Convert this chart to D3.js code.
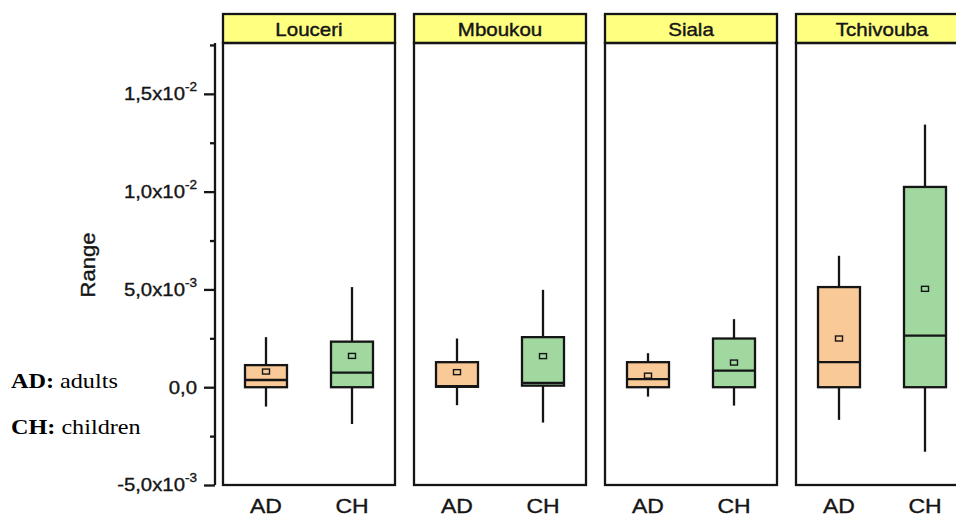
<!DOCTYPE html>
<html>
<head>
<meta charset="utf-8">
<script src="https://cdn.jsdelivr.net/npm/d3@7"></script>
<style>
  body { margin: 0; background: #fff; }
  svg { display: block; }
</style>
</head>
<body>
<svg id="chart" width="956" height="516"></svg>
<script>
// Sites (facets) and age groups within each site
const sites = ["Louceri", "Mboukou", "Siala", "Tchivouba"];
const groups = ["AD", "CH"];

// Box statistics, ordered site by site, AD then CH
const whiskerLow  = [-0.99e-3, -1.88e-3, -0.92e-3, -1.81e-3, -0.48e-3, -0.94e-3, -1.67e-3, -3.30e-3];
const quartile1   = [ 0.00e-3,  0.00e-3,  0.02e-3,  0.08e-3,  0.00e-3,  0.00e-3,  0.00e-3,  0.00e-3];
const medians     = [ 0.37e-3,  0.75e-3,  0.06e-3,  0.22e-3,  0.41e-3,  0.85e-3,  1.28e-3,  2.64e-3];
const quartile3   = [ 1.13e-3,  2.33e-3,  1.28e-3,  2.56e-3,  1.28e-3,  2.49e-3,  5.12e-3, 10.24e-3];
const whiskerHigh = [ 2.56e-3,  5.12e-3,  2.49e-3,  4.98e-3,  1.74e-3,  3.48e-3,  6.72e-3, 13.43e-3];
const means       = [ 0.80e-3,  1.60e-3,  0.77e-3,  1.59e-3,  0.59e-3,  1.26e-3,  2.49e-3,  5.03e-3];

// Axis ticks
const yMajorTicks = [-5e-3, 0, 5e-3, 1e-2, 1.5e-2];
const yMinorTicks = [-2.5e-3, 2.5e-3, 7.5e-3, 1.25e-2, 1.75e-2];

// Legend entries
const legendKeys = ["AD:", "CH:"];
const legendNames = ["adults", "children"];

const groupFill = { AD: "#F9C997", CH: "#A0D8A0" };
const headerFill = "#FFFF80";
const ink = "#151515";
const sansFont = "'Liberation Sans', Arial, sans-serif";
const serifFont = "'Liberation Serif', 'Times New Roman', serif";
const stretch = 1.13;
const lineW = 2.3;

const records = [];
sites.forEach((site, si) => groups.forEach((g, gi) => {
  const i = si * groups.length + gi;
  records.push({
    site, group: g,
    lo: whiskerLow[i], q1: quartile1[i], med: medians[i],
    q3: quartile3[i], hi: whiskerHigh[i], mean: means[i]
  });
}));

const svg = d3.select("#chart");

const headerTop = 14, plotTop = 43, plotBottom = 485;

const y = d3.scaleLinear().domain([-5e-3, 1.76e-2]).range([plotBottom, plotTop]);

const panelX = d3.scaleBand().domain(sites).range([223, 968]).paddingInner(19 / 191).paddingOuter(0);
const bw = panelX.bandwidth();
const groupX = d3.scalePoint().domain(groups).range([0, bw]).padding(0.5);
const boxWidth = 42;

// ---- Y axis ----
const axisX = 215;
const yAxisG = svg.append("g").attr("transform", `translate(${axisX},0)`);
yAxisG.call(d3.axisLeft(y).tickValues(yMajorTicks).tickSize(11).tickFormat(() => ""));
yAxisG.append("g").call(d3.axisLeft(y).tickValues(yMinorTicks).tickSize(5).tickFormat(() => ""));
yAxisG.selectAll("g g").selectAll("path.domain").remove();
yAxisG.select("path.domain").attr("stroke", ink).attr("stroke-width", lineW).attr("d", `M0,${plotTop}V${plotBottom}`);
yAxisG.selectAll(".tick line").attr("stroke", ink).attr("stroke-width", lineW);

function sciParts(v) {
  if (v === 0) return { mant: "0,0", exp: null };
  const e = Math.floor(Math.log10(Math.abs(v)) + 1e-9);
  const m = v / Math.pow(10, e);
  return { mant: m.toFixed(1).replace(".", ",") + "x10", exp: String(e) };
}

yMajorTicks.forEach(v => {
  const p = sciParts(v);
  const t = svg.append("text")
    .attr("transform", `translate(${axisX - 18},${y(v)}) scale(${stretch},1)`)
    .attr("dy", "0.35em")
    .attr("text-anchor", "end")
    .attr("font-family", sansFont)
    .attr("font-size", 18)
    .attr("fill", ink)
    .attr("stroke", ink).attr("stroke-width", 0.35);
  t.append("tspan").text(p.mant);
  if (p.exp) {
    t.append("tspan").attr("font-size", 12).attr("dy", "-0.75em").text(p.exp);
  }
});

// Y axis title
svg.append("text")
  .attr("transform", `translate(95,265) rotate(-90) scale(${stretch},1)`)
  .attr("text-anchor", "middle")
  .attr("font-family", sansFont)
  .attr("font-size", 19.5)
  .attr("fill", ink)
  .attr("stroke", ink).attr("stroke-width", 0.35)
  .text("Range");

// ---- Panels ----
const panels = svg.selectAll("g.panel").data(sites).join("g")
  .attr("class", "panel")
  .attr("transform", d => `translate(${panelX(d)},0)`);

panels.append("rect")
  .attr("x", 0).attr("y", headerTop).attr("width", bw).attr("height", plotTop - headerTop)
  .attr("fill", headerFill).attr("stroke", ink).attr("stroke-width", lineW);

panels.append("text")
  .attr("transform", `translate(${bw / 2},35.5) scale(1.14,1)`)
  .attr("text-anchor", "middle")
  .attr("font-family", sansFont)
  .attr("font-size", 18)
  .attr("fill", ink)
  .attr("stroke", ink).attr("stroke-width", 0.4)
  .text(d => d);

panels.append("rect")
  .attr("x", 0).attr("y", plotTop).attr("width", bw).attr("height", plotBottom - plotTop)
  .attr("fill", "none").attr("stroke", ink).attr("stroke-width", lineW);

// Boxes
const boxes = panels.selectAll("g.box")
  .data(site => records.filter(r => r.site === site))
  .join("g")
  .attr("class", "box")
  .attr("transform", d => `translate(${groupX(d.group)},0)`);

boxes.append("line")
  .attr("x1", 0).attr("x2", 0)
  .attr("y1", d => y(d.hi)).attr("y2", d => y(d.q3))
  .attr("stroke", ink).attr("stroke-width", lineW);
boxes.append("line")
  .attr("x1", 0).attr("x2", 0)
  .attr("y1", d => y(d.q1)).attr("y2", d => y(d.lo))
  .attr("stroke", ink).attr("stroke-width", lineW);

boxes.append("rect")
  .attr("x", -boxWidth / 2).attr("width", boxWidth)
  .attr("y", d => y(d.q3)).attr("height", d => y(d.q1) - y(d.q3))
  .attr("fill", d => groupFill[d.group])
  .attr("stroke", ink).attr("stroke-width", lineW);

boxes.append("line")
  .attr("x1", -boxWidth / 2).attr("x2", boxWidth / 2)
  .attr("y1", d => y(d.med)).attr("y2", d => y(d.med))
  .attr("stroke", ink).attr("stroke-width", lineW);

boxes.append("rect")
  .attr("x", -3.5).attr("width", 7)
  .attr("y", d => y(d.mean) - 2.5).attr("height", 5)
  .attr("fill", "none").attr("stroke", ink).attr("stroke-width", 1.4);

// Group labels below each panel
panels.selectAll("text.glabel").data(groups).join("text")
  .attr("class", "glabel")
  .attr("transform", g => `translate(${groupX(g)},512.5) scale(1.15,1)`)
  .attr("text-anchor", "middle")
  .attr("font-family", sansFont)
  .attr("font-size", 20)
  .attr("fill", ink)
  .attr("stroke", ink).attr("stroke-width", 0.35)
  .text(g => g);

// ---- Legend of abbreviations ----
const legendY = [387.7, 434];
legendKeys.forEach((k, i) => {
  const t = svg.append("text")
    .attr("transform", `translate(11,${legendY[i]}) scale(1.1,1)`)
    .attr("font-family", serifFont)
    .attr("font-size", 22)
    .attr("fill", "#000");
  t.append("tspan").attr("font-weight", "bold").text(k);
  t.append("tspan").text(" " + legendNames[i]);
});
</script>
</body>
</html>
